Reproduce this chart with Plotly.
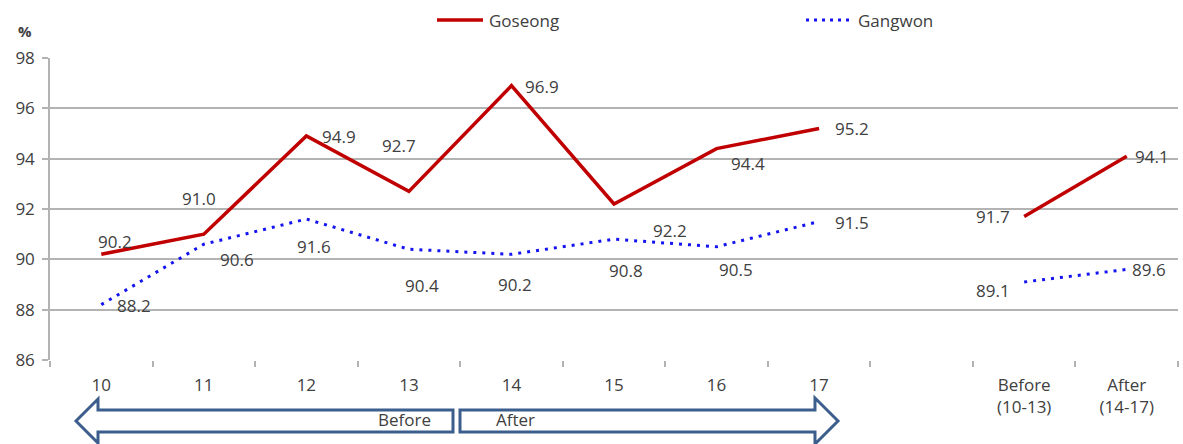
import plotly.graph_objects as go

# ---- data -------------------------------------------------------------
years = ["10", "11", "12", "13", "14", "15", "16", "17"]
goseong_yearly = [90.2, 91.0, 94.9, 92.7, 96.9, 92.2, 94.4, 95.2]
gangwon_yearly = [88.2, 90.6, 91.6, 90.4, 90.2, 90.8, 90.5, 91.5]

periods = ["Before<br>(10-13)", "After<br>(14-17)"]
goseong_period = [91.7, 94.1]
gangwon_period = [89.1, 89.6]

gap_label = " "
categories = years + [gap_label] + periods

y_ticks = [86, 88, 90, 92, 94, 96, 98]

# ---- style --------------------------------------------------------------
W, H = 1183, 444
M_L, M_R, M_T, M_B = 50, 5, 58, 84
RED = "#c00000"
BLUE = "#1414f0"
GRID = "#b3b3b3"
TXT = "#404040"
ARROW = "#3b5e8c"
FONT = "Open Sans"
FS = 17

# label offsets (pixels, x right / y up) for each data label
goseong_yearly_off = [(14, 13), (-5, 36), (33, 0), (-10, 46), (31, -1), (56, -27), (31, -15), (33, 0)]
gangwon_yearly_off = [(33, -1), (33, -15), (8, -27), (13, -36), (4, -30), (12, -31), (19, -23), (33, -1)]
goseong_period_off = [(-31, 0), (25, 0)]
gangwon_period_off = [(-31, -9), (22, 0)]

plot_w = W - M_L - M_R
plot_h = H - M_T - M_B


def px(x):
    """Horizontal pixel position -> paper coordinate."""
    return (x - M_L) / plot_w


def py(y):
    """Vertical pixel position -> paper coordinate."""
    return (H - M_B - y) / plot_h


fig = go.Figure()

red_line = dict(color=RED, width=3.5)
blue_line = dict(color=BLUE, width=3, dash="3px,6px")

fig.add_trace(go.Scatter(x=years, y=goseong_yearly, mode="lines", line=red_line,
                         name="Goseong", showlegend=False))
fig.add_trace(go.Scatter(x=periods, y=goseong_period, mode="lines", line=red_line,
                         name="Goseong", showlegend=False))
fig.add_trace(go.Scatter(x=years, y=gangwon_yearly, mode="lines", line=blue_line,
                         name="Gangwon", showlegend=False))
fig.add_trace(go.Scatter(x=periods, y=gangwon_period, mode="lines", line=blue_line,
                         name="Gangwon", showlegend=False))

annotations = []


def add_labels(xs, ys, offs):
    for x, v, (dx, dy) in zip(xs, ys, offs):
        # category axis: annotations take the category index
        annotations.append(dict(x=categories.index(x), y=v, xref="x", yref="y",
                                text=f"{v:.1f}", showarrow=False,
                                xanchor="center", yanchor="middle",
                                xshift=dx, yshift=dy,
                                font=dict(family=FONT, size=FS, color=TXT)))


add_labels(years, goseong_yearly, goseong_yearly_off)
add_labels(years, gangwon_yearly, gangwon_yearly_off)
add_labels(periods, goseong_period, goseong_period_off)
add_labels(periods, gangwon_period, gangwon_period_off)


def paper_text(x, y, text, size, xanchor="center"):
    annotations.append(dict(x=px(x), y=py(y), xref="paper", yref="paper", text=text,
                            xanchor=xanchor, yanchor="middle", showarrow=False,
                            font=dict(family=FONT, size=size, color=TXT)))


# unit label
paper_text(25, 31, "<b>%</b>", 15)
# legend
paper_text(487, 20, "Goseong", FS, "left")
paper_text(856, 20, "Gangwon", FS, "left")
# period arrow captions
paper_text(404, 420, "Before", FS)
paper_text(515, 420, "After", FS)


def path(points):
    return "M " + " L ".join(f"{px(x):.5f},{py(y):.5f}" for x, y in points) + " Z"


shapes = [
    # legend keys
    dict(type="line", xref="paper", yref="paper", x0=px(437), x1=px(483),
         y0=py(20), y1=py(20), line=dict(color=RED, width=3.5)),
    dict(type="line", xref="paper", yref="paper", x0=px(806), x1=px(851),
         y0=py(20), y1=py(20), line=dict(color=BLUE, width=3, dash="3px,5px")),
    # "Before" arrow pointing left
    dict(type="path", xref="paper", yref="paper", line=dict(color=ARROW, width=3),
         fillcolor="rgba(0,0,0,0)",
         path=path([(453, 410), (98, 410), (98, 399), (76, 421), (98, 443), (98, 432), (453, 432)])),
    # "After" arrow pointing right
    dict(type="path", xref="paper", yref="paper", line=dict(color=ARROW, width=3),
         fillcolor="rgba(0,0,0,0)",
         path=path([(460, 410), (815, 410), (815, 398), (838, 421), (815, 444), (815, 432), (460, 432)])),
]

fig.update_layout(
    width=W, height=H,
    margin=dict(l=M_L, r=M_R, t=M_T, b=M_B, pad=0),
    paper_bgcolor="white", plot_bgcolor="white",
    showlegend=False,
    annotations=annotations,
    shapes=shapes,
    font=dict(family=FONT, size=FS, color=TXT),
    xaxis=dict(
        type="category", categoryorder="array", categoryarray=categories,
        range=[-0.5, len(categories) - 0.5],
        tickmode="array", tickvals=categories, ticktext=categories,
        tickson="boundaries", ticks="outside", ticklen=6, tickwidth=1.5, tickcolor=GRID,
        showgrid=False, showline=False, zeroline=False,
        tickfont=dict(family=FONT, size=FS, color=TXT),
        ticklabelstandoff=13,
    ),
    yaxis=dict(
        range=[86, 98], tickmode="array", tickvals=y_ticks,
        showgrid=True, gridcolor=GRID, gridwidth=1.5,
        showline=True, linecolor=GRID, linewidth=1.5,
        ticks="outside", ticklen=6, tickwidth=1.5, tickcolor=GRID,
        zeroline=False,
        tickfont=dict(family=FONT, size=FS, color=TXT),
        ticklabelstandoff=4,
    ),
)

fig.write_html("out.html")
